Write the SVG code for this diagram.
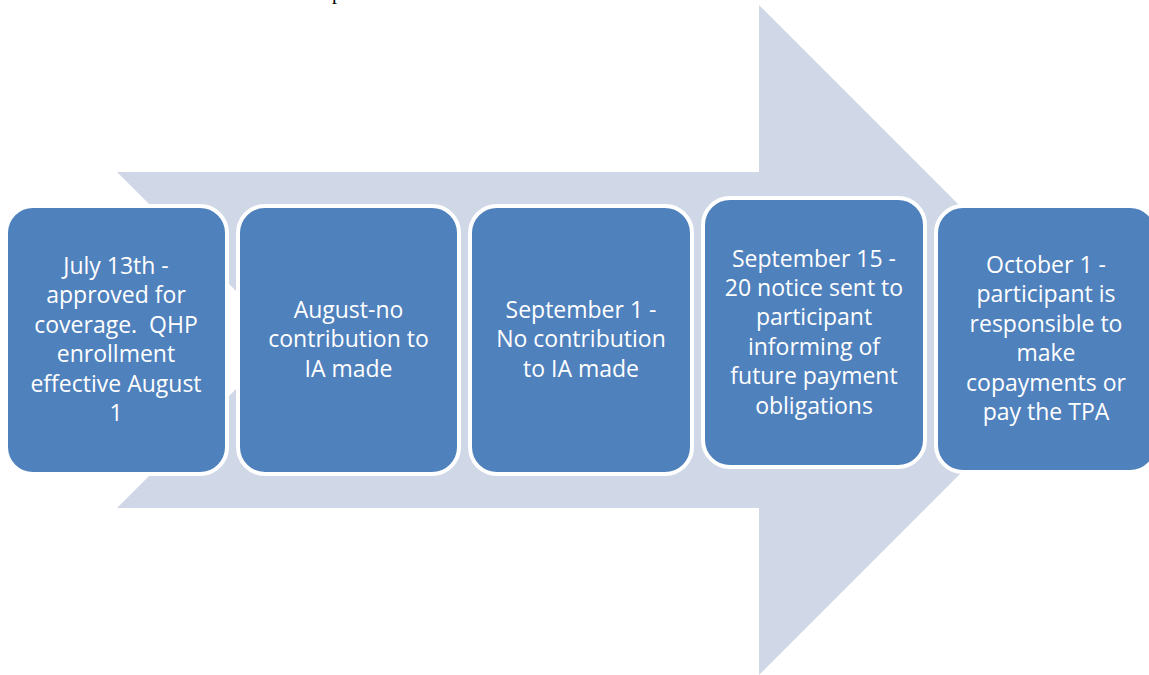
<svg xmlns="http://www.w3.org/2000/svg" width="1149" height="675" viewBox="0 0 1149 675">
<style>
.box{fill:#4F81BD;stroke:#FFFFFF;stroke-width:4}
.lbl{font-family:"Open Sans","Liberation Sans",sans-serif;font-size:23px;fill:#FFFFFF;text-anchor:middle}
</style>
<rect width="1149" height="675" fill="#FFFFFF"/>
<text x="332" y="-1" font-family="Liberation Serif,serif" font-size="20" fill="#000000">p</text>
<g id="arrow">
<polygon points="117,172 759,172 759,5 1094,340 759,675 759,508 117,508 285,340" fill="#D0D8E8"/>
</g>
<g id="connectors"></g>
<g id="node1">
<rect class="box" x="6" y="206" width="221" height="268" rx="27"/>
<text class="lbl"><tspan x="116" y="274">July 13th -</tspan><tspan x="116" y="303.4">approved for</tspan><tspan x="116" y="332.8">coverage.&#160; QHP</tspan><tspan x="116" y="362.2">enrollment</tspan><tspan x="116" y="391.6">effective August</tspan><tspan x="116" y="421">1</tspan></text>
</g>
<g id="node2">
<rect class="box" x="238" y="206" width="221" height="268" rx="27"/>
<text class="lbl"><tspan x="348.5" y="318">August-no</tspan><tspan x="348.5" y="347.4">contribution to</tspan><tspan x="348.5" y="376.8">IA made</tspan></text>
</g>
<g id="node3">
<rect class="box" x="470" y="206" width="222" height="268" rx="27"/>
<text class="lbl"><tspan x="581" y="318">September 1 -</tspan><tspan x="581" y="347.4">No contribution</tspan><tspan x="581" y="376.8">to IA made</tspan></text>
</g>
<g id="node4">
<rect class="box" x="703" y="198" width="222" height="269" rx="27"/>
<text class="lbl"><tspan x="814" y="266.5">September 15 -</tspan><tspan x="814" y="295.9">20 notice sent to</tspan><tspan x="814" y="325.3">participant</tspan><tspan x="814" y="354.7">informing of</tspan><tspan x="814" y="384.1">future payment</tspan><tspan x="814" y="413.5">obligations</tspan></text>
</g>
<g id="node5">
<rect class="box" x="936" y="206" width="221" height="266" rx="27"/>
<text class="lbl"><tspan x="1046" y="273">October 1 -</tspan><tspan x="1046" y="302.4">participant is</tspan><tspan x="1046" y="331.8">responsible to</tspan><tspan x="1046" y="361.2">make</tspan><tspan x="1046" y="390.6">copayments or</tspan><tspan x="1046" y="420">pay the TPA</tspan></text>
</g>
</svg>
